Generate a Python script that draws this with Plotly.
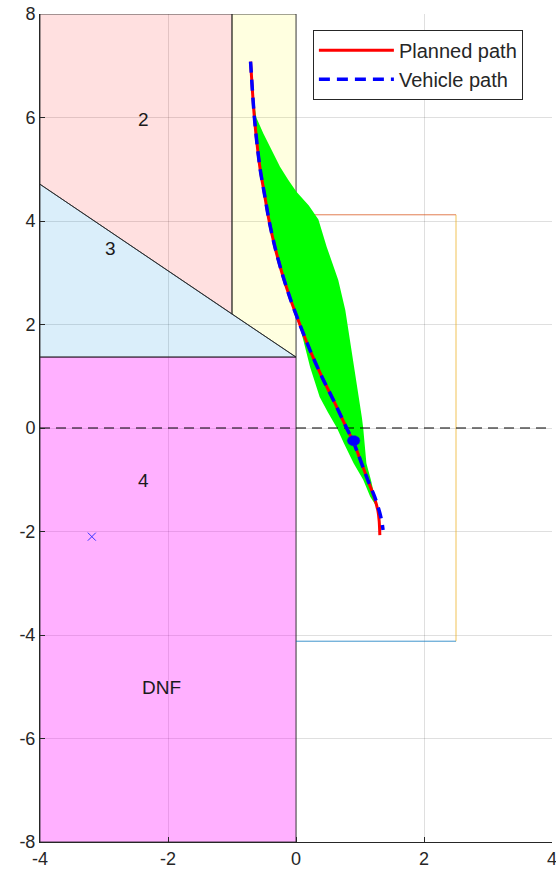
import numpy as np
import plotly.graph_objects as go

# Axis ticks
x_ticks = [-4, -2, 0, 2, 4]
y_ticks = [-8, -6, -4, -2, 0, 2, 4, 6, 8]

# Zone polygons (x, y vertices)
zone2_x = [-4, -1, -1, -4]
zone2_y = [8, 8, 2.2, 4.71]
zone_y_x = [-1, 0, 0, -1]
zone_y_y = [8, 8, 1.37, 2.2]
zone3_x = [-4, 0, -4]
zone3_y = [4.71, 1.37, 1.37]
zone4_x = [-4, 0, 0, -4]
zone4_y = [1.37, 1.37, -8, -8]

# Zone labels
label_text = ["2", "3", "4", "DNF"]
label_x = [-2.38, -2.9, -2.38, -2.1]
label_y = [5.97, 3.46, -1.02, -5.02]

# Target marker
target_x = [-3.19]
target_y = [-2.1]

# Sensor box edges
box_top_x, box_top_y = [0, 2.5], [4.12, 4.12]
box_right_x, box_right_y = [2.5, 2.5], [4.12, -4.12]
box_bottom_x, box_bottom_y = [2.5, 0], [-4.12, -4.12]

# Envelope of feasible trajectories
env_x = [-0.68, -0.62, -0.51, -0.38, -0.25, -0.12, 0.01, 0.2, 0.35, 0.48, 0.66, 0.77,
         0.87, 0.95, 1.03, 1.05, 1.08, 1.1, 1.17, 1.23, 1.29,
         1.16, 1.05, 0.9, 0.75, 0.64, 0.5, 0.37, 0.22, 0.06,
         -0.02, -0.18, -0.3, -0.39, -0.49, -0.56, -0.61, -0.65, -0.67]
env_y = [6.5, 6.0, 5.69, 5.37, 5.05, 4.79, 4.56, 4.3, 4.03, 3.5, 2.86, 2.28,
         1.51, 0.9, 0.2, 0.0, -0.4, -0.68, -1.0, -1.33, -1.58,
         -1.33, -1.0, -0.68, -0.3, 0.0, 0.3, 0.6, 1.18, 1.96,
         2.28, 2.86, 3.3, 3.83, 4.5, 5.0, 5.5, 6.0, 6.4]

# Planned and actual vehicle paths
planned_x = [-0.71, -0.68, -0.65, -0.61, -0.56, -0.49, -0.42, -0.33, -0.22, -0.09, 0.06,
             0.22, 0.4, 0.6, 0.79, 0.89, 0.97, 1.12, 1.22, 1.28, 1.3, 1.31]
planned_y = [7.08, 6.5, 6.0, 5.5, 5.0, 4.5, 4.0, 3.5, 3.0, 2.5, 2.0,
             1.5, 1.0, 0.5, 0.0, -0.25, -0.5, -1.0, -1.33, -1.6, -1.8, -2.07]
vehicle_x = [-0.71, -0.68, -0.65, -0.61, -0.56, -0.49, -0.42, -0.33, -0.22, -0.09, 0.06,
             0.22, 0.4, 0.6, 0.79, 0.89, 0.97, 1.12, 1.23, 1.3, 1.34, 1.36]
vehicle_y = [7.08, 6.5, 6.0, 5.5, 5.0, 4.5, 4.0, 3.5, 3.0, 2.5, 2.0,
             1.5, 1.0, 0.5, 0.0, -0.25, -0.5, -1.0, -1.33, -1.6, -1.8, -1.97]

# Current vehicle position and footprint radius
pos_x, pos_y, pos_r = 0.9, -0.245, 0.1

fig = go.Figure()

edge = dict(color="rgba(40,40,40,0.85)", width=1)


def zone(xs, ys, fill):
    fig.add_trace(go.Scatter(x=xs + [xs[0]], y=ys + [ys[0]], mode="lines", fill="toself",
                             fillcolor=fill, line=edge, showlegend=False, hoverinfo="skip"))


zone(zone2_x, zone2_y, "rgba(255,0,0,0.12)")
zone(zone_y_x, zone_y_y, "rgba(255,255,0,0.12)")
zone(zone3_x, zone3_y, "rgba(0,138,218,0.145)")
zone(zone4_x, zone4_y, "rgba(255,0,255,0.31)")

# Sensor box
for bx, by, col in [(box_top_x, box_top_y, "#D95319"),
                    (box_right_x, box_right_y, "#EDB120"),
                    (box_bottom_x, box_bottom_y, "#0072BD")]:
    fig.add_trace(go.Scatter(x=bx, y=by, mode="lines", line=dict(color=col, width=1),
                             opacity=0.75, showlegend=False, hoverinfo="skip"))

# Envelope
fig.add_trace(go.Scatter(x=env_x + [env_x[0]], y=env_y + [env_y[0]], mode="lines",
                         fill="toself", fillcolor="#00FF00", line=dict(width=0),
                         showlegend=False, hoverinfo="skip"))

# Zero reference line
fig.add_trace(go.Scatter(x=[x_ticks[0], x_ticks[-1]], y=[0, 0], mode="lines",
                         line=dict(color="black", width=1.2, dash="10px,6px"),
                         showlegend=False, hoverinfo="skip"))

# Target
fig.add_trace(go.Scatter(x=target_x, y=target_y, mode="markers",
                         marker=dict(symbol="x-thin", size=8, line=dict(color="#3333FF", width=1)),
                         showlegend=False, hoverinfo="skip"))

# Paths
fig.add_trace(go.Scatter(x=planned_x, y=planned_y, mode="lines", name="Planned path",
                         line=dict(color="#FF0000", width=3, shape="spline", smoothing=0.8)))
fig.add_trace(go.Scatter(x=vehicle_x, y=vehicle_y, mode="lines", name="Vehicle path",
                         line=dict(color="#0000FF", width=3.5, dash="11px,7px",
                                   shape="spline", smoothing=0.8)))

# Vehicle footprint
t = np.linspace(0, 2 * np.pi, 60)
fig.add_trace(go.Scatter(x=pos_x + pos_r * np.cos(t), y=pos_y + pos_r * np.sin(t), mode="lines",
                         fill="toself", fillcolor="#0000FF", line=dict(color="#2020C0", width=0.5),
                         showlegend=False, hoverinfo="skip"))

# Zone labels
for txt, lx, ly in zip(label_text, label_x, label_y):
    fig.add_annotation(x=lx, y=ly, text=txt, showarrow=False,
                       font=dict(family="Liberation Sans, Arial", size=19, color="#1a1a1a"))

axis_common = dict(showgrid=True, gridcolor="rgba(38,38,38,0.15)", gridwidth=1,
                   zeroline=False, showline=True, linecolor="#262626", linewidth=1,
                   mirror=False, ticks="inside", ticklen=5, tickcolor="#262626",
                   ticklabeloverflow="allow", automargin=False,
                   tickfont=dict(family="Liberation Sans, Arial", size=18, color="#262626"))

fig.update_xaxes(range=[-4, 4], tickvals=x_ticks, ticktext=[str(v) for v in x_ticks], **axis_common)
fig.update_yaxes(range=[-8, 8], tickvals=y_ticks, ticktext=[str(v) for v in y_ticks], **axis_common)

fig.update_layout(
    width=556, height=874,
    margin=dict(l=40, r=4, t=14, b=32),
    plot_bgcolor="white", paper_bgcolor="white",
    legend=dict(x=0.533, y=0.981, xanchor="left", yanchor="top",
                bgcolor="white", bordercolor="#262626", borderwidth=1,
                font=dict(family="Liberation Sans, Arial", size=20, color="#262626"),
                itemwidth=75, tracegroupgap=0),
)

fig.write_html("out.html")
